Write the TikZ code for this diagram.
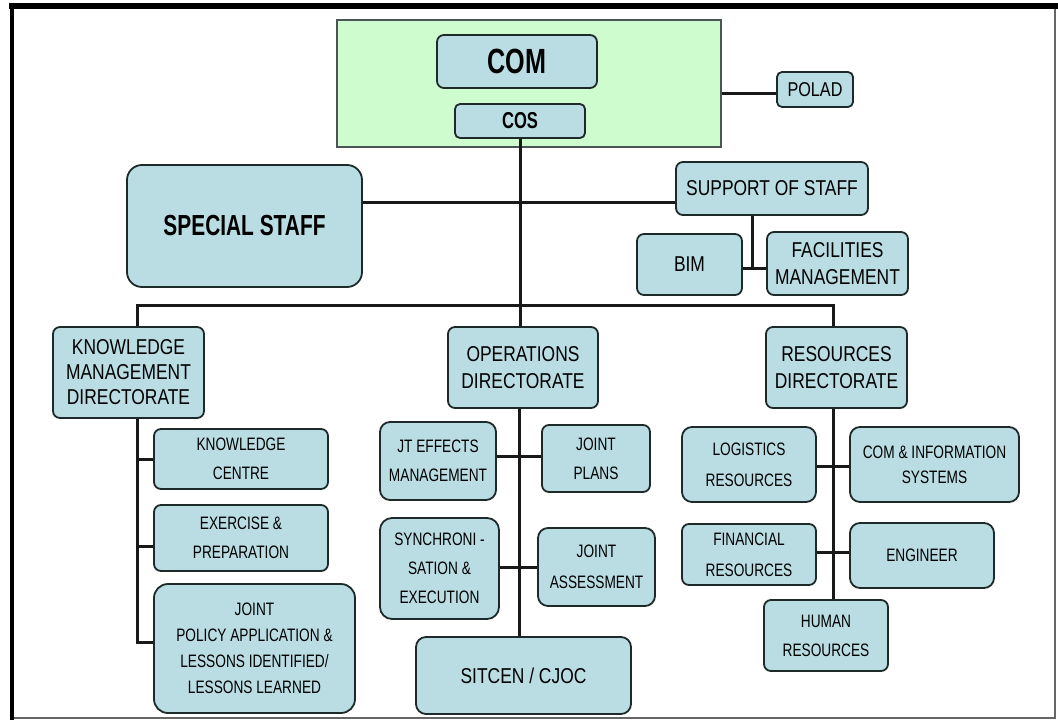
\documentclass[tikz,border=0pt]{standalone}
\usepackage{fontspec}
\setmainfont{Liberation Sans}
\newfontfamily\regf[FakeStretch=0.81]{Liberation Sans}
\newfontfamily\subf[FakeStretch=0.76]{Liberation Sans}
\newfontfamily\boldf[FakeStretch=0.72]{Liberation Sans}
\definecolor{boxfill}{RGB}{185,221,227}
\definecolor{greenfill}{RGB}{206,252,206}
\definecolor{edge}{RGB}{30,42,42}
\tikzset{
  box/.style={draw=edge, line width=1.8pt, fill=boxfill, rounded corners=7pt, inner sep=0pt, align=center, text=black},
  mainf/.style={font=\regf\fontsize{21.5}{27}\selectfont},
  subtxt/.style={font=\subf\fontsize{18}{29}\selectfont},
  conn/.style={line width=3pt, draw=black!90}
}
\begin{document}
\begin{tikzpicture}[x=1pt,y=-1pt]
\useasboundingbox (0,0) rectangle (1058,720);
\fill[white] (0,0) rectangle (1058,720);
% frame
\draw[black!60, line width=1.2pt] (1055,6) -- (1055,718) -- (12,718);
\draw[black, line width=6pt] (9,6) -- (1058,6);
\draw[black, line width=4pt] (12,3) -- (12,720);
% top group
\node[draw=edge!80, line width=1.3pt, fill=greenfill, minimum width=384pt, minimum height=127pt, inner sep=0pt] (green) at (529,83.5) {};
\node[box, minimum width=160pt, minimum height=53pt, font=\boldf\bfseries\fontsize{35}{40}\selectfont] (com) at (517,61.5) {COM};
\node[box, minimum width=130pt, minimum height=34pt, rounded corners=5pt, font=\boldf\bfseries\fontsize{23}{26}\selectfont] (cos) at (520,121) {COS};
\node[box, font=\regf\fontsize{20}{24}\selectfont, minimum width=76pt, minimum height=35pt, rounded corners=5pt] (polad) at (815,89.5) {POLAD};
% staff
\node[box, minimum width=235pt, minimum height=122pt, rounded corners=15pt, font=\boldf\bfseries\fontsize{29}{32}\selectfont] (special) at (244.5,226) {SPECIAL STAFF};
\node[box, mainf, minimum width=192pt, minimum height=53pt] (support) at (772,188.5) {SUPPORT OF STAFF};
\node[box, mainf, minimum width=105pt, minimum height=61pt] (bim) at (689.5,264.5) {BIM};
\node[box, mainf, minimum width=141pt, minimum height=63pt] (fac) at (837.5,263.5) {FACILITIES\\MANAGEMENT};
% directorates
\node[box, mainf, font=\regf\fontsize{21.5}{25}\selectfont, minimum width=151pt, minimum height=91pt] (km) at (128.5,372.5) {KNOWLEDGE\\MANAGEMENT\\DIRECTORATE};
\node[box, mainf, minimum width=150pt, minimum height=81pt] (ops) at (523,367.5) {OPERATIONS\\DIRECTORATE};
\node[box, mainf, minimum width=141pt, minimum height=81pt] (res) at (836.5,367.5) {RESOURCES\\DIRECTORATE};
% KM children
\node[box, subtxt, minimum width=174pt, minimum height=60pt] (kc) at (241,459) {KNOWLEDGE\\CENTRE};
\node[box, subtxt, minimum width=174pt, minimum height=66pt] (ex) at (241,538) {EXERCISE \&\\PREPARATION};
\node[box, subtxt, font=\subf\fontsize{18}{26}\selectfont, minimum width=201pt, minimum height=129pt, rounded corners=14pt] (jp) at (254.5,648.5) {JOINT\\POLICY APPLICATION \&\\LESSONS IDENTIFIED/\\LESSONS LEARNED};
% OPS children
\node[box, subtxt, minimum width=116pt, minimum height=78pt, rounded corners=10pt] (jte) at (438,461) {JT EFFECTS\\MANAGEMENT};
\node[box, subtxt, minimum width=108pt, minimum height=67pt] (jpl) at (596,458.5) {JOINT\\PLANS};
\node[box, subtxt, minimum width=119pt, minimum height=101pt, rounded corners=12pt] (syn) at (439.5,568.5) {SYNCHRONI -\\SATION \&\\EXECUTION};
\node[box, subtxt, font=\subf\fontsize{18}{31}\selectfont, minimum width=117pt, minimum height=78pt, rounded corners=10pt] (jas) at (596.5,567) {JOINT\\ASSESSMENT};
\node[box, mainf, minimum width=215pt, minimum height=77pt, rounded corners=10pt] (sit) at (523.5,675.5) {SITCEN / CJOC};
% RES children
\node[box, subtxt, font=\subf\fontsize{18}{31}\selectfont, minimum width=134pt, minimum height=75pt, rounded corners=10pt] (log) at (749,464.5) {LOGISTICS\\RESOURCES};
\node[box, subtxt, font=\subf\fontsize{18}{25}\selectfont, minimum width=169pt, minimum height=75pt, rounded corners=10pt] (cis) at (934.5,464.5) {COM \& INFORMATION\\SYSTEMS};
\node[box, subtxt, font=\subf\fontsize{18}{31}\selectfont, minimum width=134pt, minimum height=61pt] (fin) at (749,554.5) {FINANCIAL\\RESOURCES};
\node[box, subtxt, minimum width=144pt, minimum height=65pt, rounded corners=10pt] (eng) at (922,555.5) {ENGINEER};
\node[box, subtxt, minimum width=124pt, minimum height=71pt] (hum) at (826,635.5) {HUMAN\\RESOURCES};
% connector coordinates
\coordinate (pl) at (0,93);
\coordinate (ssy) at (0,202);
\coordinate (bf) at (752,268);
\coordinate (busL) at (137,305);
\coordinate (busR) at (833,305);
\coordinate (k1) at (137,459);
\coordinate (k2) at (137,546);
\coordinate (k3) at (137,642);
\coordinate (o1) at (519,456);
\coordinate (o2) at (519,567);
\coordinate (r1) at (833,466);
\coordinate (r2) at (833,552);
% connectors
\draw[conn] (green.east |- pl) -- (polad.west |- pl);
\draw[conn] (cos.south) -- (cos.south |- ops.north);
\draw[conn] (special.east |- ssy) -- (support.west |- ssy);
\draw[conn] (support.south -| bf) -- (bf);
\draw[conn] (bim.east |- bf) -- (fac.west |- bf);
\draw[conn] (km.north -| busL) -- (busL) -- (busR) -- (res.north -| busR);
\draw[conn] (km.south -| k3) -- (k3) -- (jp.west |- k3);
\draw[conn] (k1) -- (kc.west |- k1);
\draw[conn] (k2) -- (ex.west |- k2);
\draw[conn] (ops.south -| o1) -- (sit.north -| o1);
\draw[conn] (jte.east |- o1) -- (jpl.west |- o1);
\draw[conn] (syn.east |- o2) -- (jas.west |- o2);
\draw[conn] (res.south -| r1) -- (hum.north -| r1);
\draw[conn] (log.east |- r1) -- (cis.west |- r1);
\draw[conn] (fin.east |- r2) -- (eng.west |- r2);
\end{tikzpicture}
\end{document}
